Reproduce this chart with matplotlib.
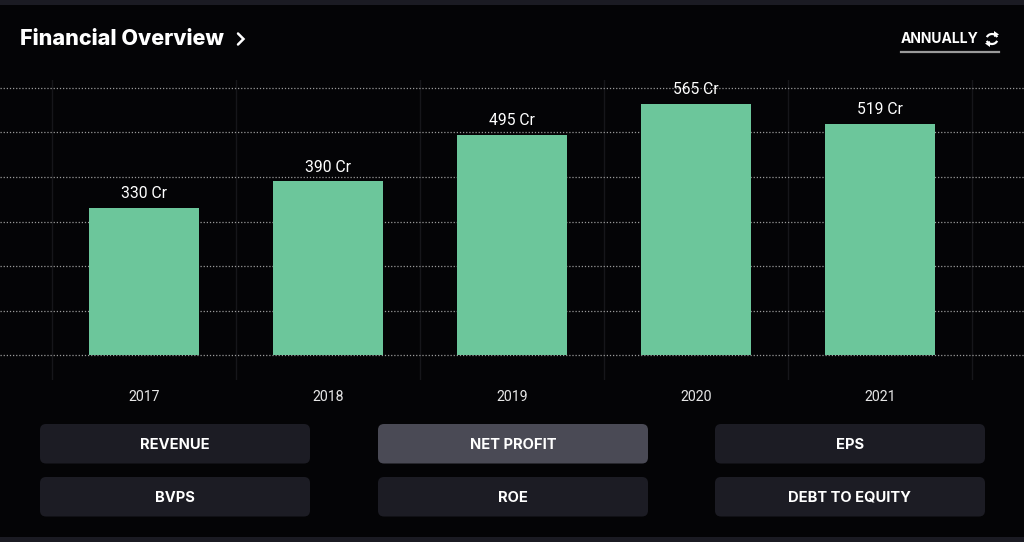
import matplotlib
matplotlib.use("Agg")
import matplotlib.pyplot as plt
from matplotlib.patches import FancyBboxPatch, Rectangle, Arc, Polygon

years = ["2017", "2018", "2019", "2020", "2021"]
net_profit = [330, 390, 495, 565, 519]
unit = "Cr"
buttons = [["REVENUE", "NET PROFIT", "EPS"], ["BVPS", "ROE", "DEBT TO EQUITY"]]
active_button = "NET PROFIT"
title = "Financial Overview"
period = "ANNUALLY"

W, H = 1024, 542
BG = "#040406"
BAR = "#6cc69b"
plt.rcParams['font.family'] = ['Roboto', 'DejaVu Sans']
BOLD = ['Inter', 'Roboto', 'DejaVu Sans']

fig = plt.figure(figsize=(W / 100, H / 100), dpi=100, facecolor=BG)

def fy(y):
    return 1 - y / H

# chart axes
ax = fig.add_axes([0, fy(380), 1, (380 - 80) / H])
ax.set_facecolor(BG)
ppu = 0.4455
ax.set_xlim(-0.5 - 52 / 184, 4.5 + 52 / 184)
ax.set_ylim(-(380 - 355) / ppu, 600 + (88 - 80) / ppu)
for s in ax.spines.values():
    s.set_visible(False)
ax.set_yticks(range(0, 700, 100))
ax.yaxis.grid(True, linestyle=(0, (1, 1.5)), color="#9a9a9a", linewidth=0.9)
ax.set_axisbelow(True)
ax.tick_params(axis="y", length=0, labelleft=False)
for b in range(len(years) + 1):
    ax.axvline(b - 0.5, color="#16161a", linewidth=1, zorder=0)
x = list(range(len(years)))
bars = ax.bar(x, net_profit, width=0.6, color=BAR, zorder=3)
for xi, v in zip(x, net_profit):
    ax.annotate(f"{v} {unit}", (xi, v), xytext=(0, 5), textcoords="offset points",
                ha="center", va="bottom", color="white", fontsize=11.3)
ax.set_xticks(x)
ax.set_xticklabels(years, color="#e6e6e6", fontsize=10.2)
ax.tick_params(axis="x", length=0, pad=7)

# overlay in pixel coordinates
ov = fig.add_axes([0, 0, 1, 1], zorder=5)
ov.set_xlim(0, W)
ov.set_ylim(H, 0)
ov.axis("off")
ov.patch.set_alpha(0)

ov.add_patch(Rectangle((0, 0), W, 5, color="#1b1b23", lw=0))
ov.add_patch(Rectangle((0, 537), W, 5, color="#1b1b23", lw=0))

ov.text(20, 39, title, color="white", fontsize=15.5, fontweight="heavy",
        family=BOLD, va="center", ha="left")
ov.plot([238, 243.5, 238], [33.5, 39, 44.5], color="white", lw=1.8,
        solid_capstyle="round", solid_joinstyle="miter")
ov.text(901, 39, period, color="white", fontsize=10, fontweight="bold",
        family=BOLD, va="center", ha="left")
ov.plot([901, 999], [51.5, 51.5], color="#9a9a9a", lw=1.6)
# sync icon
ov.add_patch(Arc((992, 39), 11, 10, theta1=200, theta2=340, color="white", lw=1.6))
ov.add_patch(Arc((992, 39), 11, 10, theta1=20, theta2=160, color="white", lw=1.6))
ov.add_patch(Polygon([[994, 31], [999, 34.5], [994, 37]], closed=True, color="white", lw=0))
ov.add_patch(Polygon([[990, 41], [985, 43.5], [990, 47]], closed=True, color="white", lw=0))

cols = [40, 378, 715]
rows = [424, 477]
bw, bh = 270, 39.5
for r, row in enumerate(buttons):
    for c, label in enumerate(row):
        col = "#4a4a55" if label == active_button else "#1c1c24"
        ov.add_patch(FancyBboxPatch((cols[c], rows[r]), bw, bh,
                                    boxstyle="round,pad=0,rounding_size=6",
                                    facecolor=col, edgecolor="none"))
        ov.text(cols[c] + bw / 2, rows[r] + bh / 2 + 1, label, color="white",
                fontsize=10.6, fontweight="bold", family=BOLD, ha="center", va="center")

fig.savefig("out.png", dpi=100, facecolor=BG)
